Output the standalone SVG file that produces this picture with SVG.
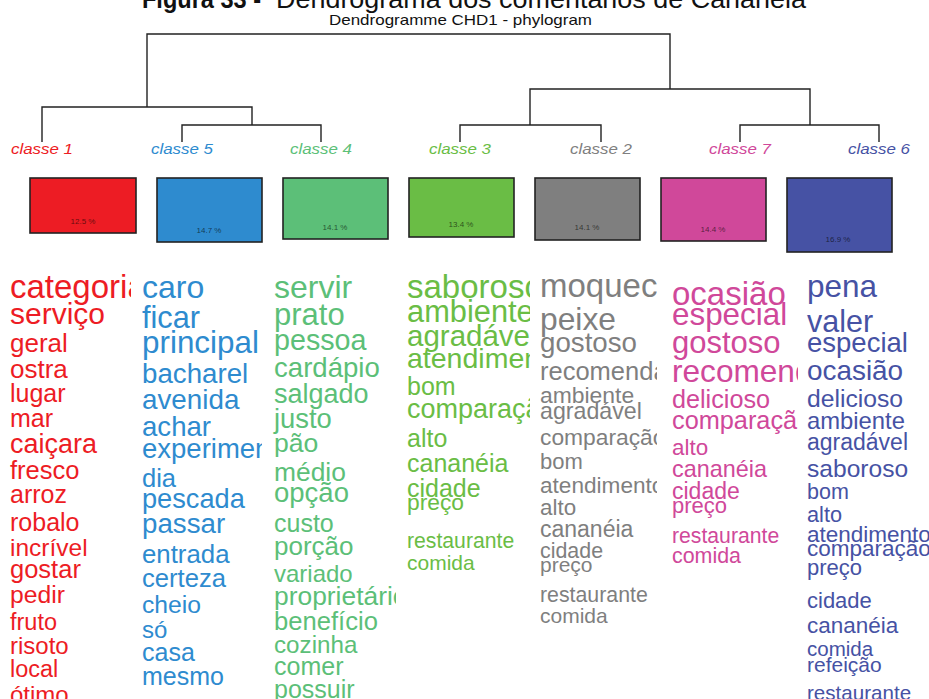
<svg xmlns="http://www.w3.org/2000/svg" width="929" height="699" viewBox="0 0 929 699">
<defs>
<style>
text{font-family:"Liberation Sans",Arial,sans-serif}
.lbl{font-size:15px;font-style:italic;text-anchor:middle}
.pct{font-size:8px;text-anchor:middle;fill:#000;fill-opacity:.6}
.box{stroke:#222;stroke-width:1.6}
.c1{fill:#ED1C24}.c5{fill:#2E8BCF}.c4{fill:#5CBF78}.c3{fill:#6ABD45}.c2{fill:#7F7F7F}.c7{fill:#D0489A}.c6{fill:#4652A4}
.ln{stroke:#222;stroke-width:1.4;fill:none}
</style>
<clipPath id="k1"><rect x="9" y="270" width="122" height="429"/></clipPath>
<clipPath id="k5"><rect x="140" y="270" width="122" height="429"/></clipPath>
<clipPath id="k4"><rect x="272" y="270" width="124" height="429"/></clipPath>
<clipPath id="k3"><rect x="404" y="270" width="126" height="429"/></clipPath>
<clipPath id="k2"><rect x="538" y="270" width="119" height="429"/></clipPath>
<clipPath id="k7"><rect x="670" y="270" width="128" height="429"/></clipPath>
<clipPath id="k6"><rect x="804" y="270" width="125" height="429"/></clipPath>
</defs>
<rect width="929" height="699" fill="#fff"/>
<g id="title">
<text x="142" y="8" font-size="25" font-weight="bold" fill="#111" textLength="119" lengthAdjust="spacingAndGlyphs">Figura 33 -</text>
<text x="276" y="8" font-size="25" fill="#111" textLength="530" lengthAdjust="spacingAndGlyphs">Dendrograma dos comentários de Cananéia</text>
<text x="329" y="25" font-size="15" fill="#111" textLength="263" lengthAdjust="spacingAndGlyphs">Dendrogramme CHD1 - phylogram</text>
</g>
<g id="connectors" class="ln">
<polyline points="147,107 147,34 670,34 670,89"/>
<polyline points="42,142 42,107 252,107 252,125"/>
<polyline points="182,142 182,125 321,125 321,142"/>
<polyline points="530,125 530,89 810,89 810,125"/>
<polyline points="460,142 460,125 601,125 601,142"/>
<polyline points="740,142 740,125 879,125 879,142"/>
</g>
<g id="classe1">
<text class="lbl c1" x="42" y="154" textLength="62" lengthAdjust="spacingAndGlyphs">classe  1</text>
<rect class="box c1" x="30" y="178" width="106" height="55"/>
<text class="pct" x="83" y="224">12.5 %</text>
<g class="c1" clip-path="url(#k1)">
<text x="10" y="298" font-size="33">categoria</text>
<text x="10" y="324" font-size="30">serviço</text>
<text x="10" y="352" font-size="26">geral</text>
<text x="10" y="378" font-size="26">ostra</text>
<text x="10" y="402" font-size="25">lugar</text>
<text x="10" y="427" font-size="25">mar</text>
<text x="10" y="453" font-size="27">caiçara</text>
<text x="10" y="479" font-size="25.5">fresco</text>
<text x="10" y="503" font-size="25">arroz</text>
<text x="10" y="531" font-size="25">robalo</text>
<text x="10" y="556" font-size="24.5">incrível</text>
<text x="10" y="578" font-size="25.5">gostar</text>
<text x="10" y="603" font-size="24.7">pedir</text>
<text x="10" y="630" font-size="23.5">fruto</text>
<text x="10" y="654" font-size="24">risoto</text>
<text x="10" y="677" font-size="23.5">local</text>
<text x="10" y="703" font-size="24">ótimo</text>
</g>
</g>
<g id="classe5">
<text class="lbl c5" x="182" y="154" textLength="62" lengthAdjust="spacingAndGlyphs">classe  5</text>
<rect class="box c5" x="157" y="178" width="105" height="64"/>
<text class="pct" x="209" y="233">14.7 %</text>
<g class="c5" clip-path="url(#k5)">
<text x="142" y="298" font-size="32">caro</text>
<text x="142" y="328" font-size="30.7">ficar</text>
<text x="142" y="353" font-size="31.4">principal</text>
<text x="142" y="383" font-size="27.7">bacharel</text>
<text x="142" y="409" font-size="27.8">avenida</text>
<text x="142" y="436" font-size="27.6">achar</text>
<text x="142" y="458" font-size="27.5">experimentar</text>
<text x="142" y="487" font-size="25.5">dia</text>
<text x="142" y="508" font-size="27.2">pescada</text>
<text x="142" y="533" font-size="27.7">passar</text>
<text x="142" y="563" font-size="25.8">entrada</text>
<text x="142" y="587" font-size="25.6">certeza</text>
<text x="142" y="613" font-size="24.7">cheio</text>
<text x="142" y="638" font-size="24">só</text>
<text x="142" y="661" font-size="25">casa</text>
<text x="142" y="685" font-size="25">mesmo</text>
</g>
</g>
<g id="classe4">
<text class="lbl c4" x="321" y="154" textLength="62" lengthAdjust="spacingAndGlyphs">classe  4</text>
<rect class="box c4" x="283" y="178" width="105" height="61"/>
<text class="pct" x="335" y="230">14.1 %</text>
<g class="c4" clip-path="url(#k4)">
<text x="274" y="298" font-size="32">servir</text>
<text x="274" y="325" font-size="31">prato</text>
<text x="274" y="350" font-size="28.7">pessoa</text>
<text x="274" y="377" font-size="27.6">cardápio</text>
<text x="274" y="403" font-size="27">salgado</text>
<text x="274" y="428" font-size="27.4">justo</text>
<text x="274" y="452" font-size="26.6">pão</text>
<text x="274" y="481" font-size="26.4">médio</text>
<text x="274" y="502" font-size="27.5">opção</text>
<text x="274" y="532" font-size="25">custo</text>
<text x="274" y="555" font-size="26">porção</text>
<text x="274" y="582" font-size="24">variado</text>
<text x="274" y="605" font-size="26.4">proprietário</text>
<text x="274" y="630" font-size="25.6">benefício</text>
<text x="274" y="653" font-size="24.2">cozinha</text>
<text x="274" y="675" font-size="25">comer</text>
<text x="274" y="698" font-size="25">possuir</text>
</g>
</g>
<g id="classe3">
<text class="lbl c3" x="460" y="154" textLength="62" lengthAdjust="spacingAndGlyphs">classe  3</text>
<rect class="box c3" x="409" y="178" width="105" height="59"/>
<text class="pct" x="461" y="227">13.4 %</text>
<g class="c3" clip-path="url(#k3)">
<text x="407" y="298" font-size="33">saboroso</text>
<text x="407" y="322" font-size="30.8">ambiente</text>
<text x="407" y="346" font-size="29.5">agradável</text>
<text x="407" y="368" font-size="28.5">atendimento</text>
<text x="407" y="395" font-size="25">bom</text>
<text x="407" y="418" font-size="27">comparação</text>
<text x="407" y="447" font-size="25">alto</text>
<text x="407" y="472" font-size="25">cananéia</text>
<text x="407" y="497" font-size="25">cidade</text>
<text x="407" y="510" font-size="22.8">preço</text>
<text x="407" y="548" font-size="21.2">restaurante</text>
<text x="407" y="570" font-size="21">comida</text>
</g>
</g>
<g id="classe2">
<text class="lbl c2" x="601" y="154" textLength="62" lengthAdjust="spacingAndGlyphs">classe  2</text>
<rect class="box c2" x="535" y="178" width="105" height="62"/>
<text class="pct" x="587" y="230">14.1 %</text>
<g class="c2" clip-path="url(#k2)">
<text x="540" y="297" font-size="33">moqueca</text>
<text x="540" y="330" font-size="31.8">peixe</text>
<text x="540" y="352" font-size="27.7">gostoso</text>
<text x="540" y="380" font-size="25.5">recomendar</text>
<text x="540" y="403" font-size="22.9">ambiente</text>
<text x="540" y="419" font-size="23.2">agradável</text>
<text x="540" y="445" font-size="22.8">comparação</text>
<text x="540" y="469" font-size="22">bom</text>
<text x="540" y="493" font-size="22.6">atendimento</text>
<text x="540" y="515" font-size="22.4">alto</text>
<text x="540" y="537" font-size="23">cananéia</text>
<text x="540" y="558" font-size="21.4">cidade</text>
<text x="540" y="572" font-size="21">preço</text>
<text x="540" y="602" font-size="21.3">restaurante</text>
<text x="540" y="623" font-size="21">comida</text>
</g>
</g>
<g id="classe7">
<text class="lbl c7" x="740" y="154" textLength="62" lengthAdjust="spacingAndGlyphs">classe  7</text>
<rect class="box c7" x="661" y="178" width="105" height="63"/>
<text class="pct" x="713" y="232">14.4 %</text>
<g class="c7" clip-path="url(#k7)">
<text x="672" y="305" font-size="33">ocasião</text>
<text x="672" y="325" font-size="31.4">especial</text>
<text x="672" y="353" font-size="31">gostoso</text>
<text x="672" y="382" font-size="31.6">recomendar</text>
<text x="672" y="408" font-size="25.2">delicioso</text>
<text x="672" y="429" font-size="25.3">comparação</text>
<text x="672" y="455" font-size="22.4">alto</text>
<text x="672" y="477" font-size="23.4">cananéia</text>
<text x="672" y="499" font-size="23">cidade</text>
<text x="672" y="513" font-size="22">preço</text>
<text x="672" y="543" font-size="21.2">restaurante</text>
<text x="672" y="563" font-size="21.4">comida</text>
</g>
</g>
<g id="classe6">
<text class="lbl c6" x="879" y="154" textLength="62" lengthAdjust="spacingAndGlyphs">classe  6</text>
<rect class="box c6" x="787" y="178" width="105" height="74"/>
<text class="pct" x="838" y="242">16.9 %</text>
<g class="c6" clip-path="url(#k6)">
<text x="807" y="297" font-size="31.5">pena</text>
<text x="807" y="332" font-size="30.5">valer</text>
<text x="807" y="352" font-size="27.5">especial</text>
<text x="807" y="380" font-size="27.9">ocasião</text>
<text x="807" y="407" font-size="24.7">delicioso</text>
<text x="807" y="429" font-size="23.8">ambiente</text>
<text x="807" y="450" font-size="23">agradável</text>
<text x="807" y="477" font-size="24.6">saboroso</text>
<text x="807" y="499" font-size="21.5">bom</text>
<text x="807" y="522" font-size="21.7">alto</text>
<text x="807" y="542" font-size="22.5">atendimento</text>
<text x="807" y="556" font-size="22.5">comparação</text>
<text x="807" y="575" font-size="22">preço</text>
<text x="807" y="608" font-size="22">cidade</text>
<text x="807" y="633" font-size="22.5">cananéia</text>
<text x="807" y="656" font-size="20.5">comida</text>
<text x="807" y="672" font-size="21">refeição</text>
<text x="807" y="700" font-size="20.6">restaurante</text>
</g>
</g>
</svg>
